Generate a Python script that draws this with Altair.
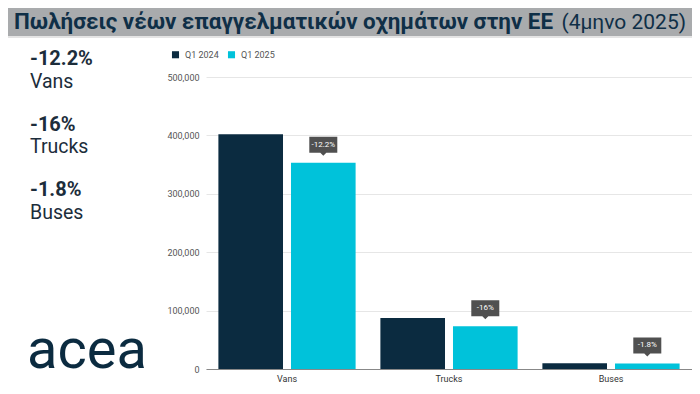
import altair as alt
import pandas as pd

# ---- data ----
categories = ["Vans", "Trucks", "Buses"]
series = ["Q1 2024", "Q1 2025"]
q1_2024 = [402000, 87300, 9700]
q1_2025 = [353000, 73300, 9500]
changes = ["-12.2%", "-16%", "-1.8%"]
title_bold = "Πωλήσεις νέων επαγγελματικών οχημάτων στην ΕΕ"
title_regular = "(4μηνο 2025)"
y_ticks = [0, 100000, 200000, 300000, 400000, 500000]

NAVY = "#0b2b40"
CYAN = "#00c2da"
TEXT = "#1c2d3b"

rows = []
for i, c in enumerate(categories):
    rows.append({"category": c, "series": series[0], "value": q1_2024[i], "change": changes[i]})
    rows.append({"category": c, "series": series[1], "value": q1_2025[i], "change": changes[i]})
df = pd.DataFrame(rows)

W, H = 486, 292
PL, PT = 198, 69

x_enc = alt.X("category:N", sort=categories, title=None,
              scale=alt.Scale(paddingInner=0.153, paddingOuter=0.0765),
              axis=alt.Axis(labelAngle=0, labelFontSize=9, labelColor="#333", labelFont="Roboto",
                            domainColor="#888", domainWidth=1, ticks=False, labelPadding=5))
xo_enc = alt.XOffset("series:N", scale=alt.Scale(domain=series, paddingInner=0.11))
y_enc = alt.Y("value:Q", title=None,
              scale=alt.Scale(domain=[0, 500000], nice=False),
              axis=alt.Axis(values=y_ticks, format=",d", labelFontSize=9, labelColor="#555",
                            labelFont="Roboto", domain=False, ticks=False, labelPadding=7,
                            gridColor="#e6e6e6", gridWidth=1))

bars = alt.Chart(df).mark_bar().encode(
    x=x_enc, xOffset=xo_enc, y=y_enc,
    color=alt.Color("series:N", scale=alt.Scale(domain=series, range=[NAVY, CYAN]),
                    legend=alt.Legend(orient="none", legendX=-35, legendY=-27, direction="horizontal",
                                      title=None, symbolType="square", symbolSize=50,
                                      symbolStrokeWidth=0, labelFontSize=9, labelColor="#555",
                                      labelFont="Roboto", columnPadding=8, labelOffset=5)),
)

box_path = "M-1.4,-0.8L1.4,-0.8L1.4,0.8L0.3,0.8L0,1.1L-0.3,0.8L-1.4,0.8Z"
ann_df = df[df["series"] == series[1]]
boxes = alt.Chart(ann_df).mark_point(shape=box_path, size=400, filled=True, opacity=1,
                                     color="#505050", strokeWidth=0, yOffset=-18).encode(
    x=alt.X("category:N", sort=categories), xOffset=alt.XOffset("series:N"), y="value:Q")
box_text = alt.Chart(ann_df).mark_text(dy=-18, fontSize=8, color="white", font="Roboto",
                                       baseline="middle").encode(
    x=alt.X("category:N", sort=categories), xOffset=alt.XOffset("series:N"), y="value:Q",
    text="change:N")

one = pd.DataFrame({"a": [0]})

title_bar = alt.Chart(one).mark_rect(color="#a9abad").encode(
    x=alt.value(-PL), x2=alt.value(W), y=alt.value(-PT), y2=alt.value(-PT + 28))
title_shadow = alt.Chart(one).mark_rect(color="#e4e4e4").encode(
    x=alt.value(-PL), x2=alt.value(W), y=alt.value(-PT + 28), y2=alt.value(-PT + 30))


def txt(s, x, y, size, weight="normal", color=TEXT, align="left", font="Roboto"):
    return alt.Chart(pd.DataFrame({"t": [s]})).mark_text(
        align=align, baseline="alphabetic", fontSize=size, fontWeight=weight, color=color, font=font
    ).encode(text="t:N", x=alt.value(x), y=alt.value(y))


layers = [title_bar, title_shadow,
          txt(title_bold, -192, -48, 22.4, "bold", "#0f2f47"),
          txt(title_regular, 480, -48, 21, "normal", "#0f2f47", align="right")]

left_y = [(-12, 11), (54, 76), (119, 142)]
for i, c in enumerate(categories):
    yc, yn = left_y[i]
    layers.append(txt(changes[i], -176, yc, 20, "bold"))
    layers.append(txt(c, -176, yn, 19.5, "normal"))

layers.append(txt("acea", -179, 291, 56, "normal", NAVY))

chart = alt.layer(*layers, bars, boxes, box_text).properties(
    width=W, height=H,
    padding={"left": PL, "top": PT, "right": 0, "bottom": 16},
    autosize=alt.AutoSizeParams(type="none"),
    background="white",
).configure_view(stroke=None)

chart.save("out.html", embed_options={"renderer": "svg", "actions": False})
